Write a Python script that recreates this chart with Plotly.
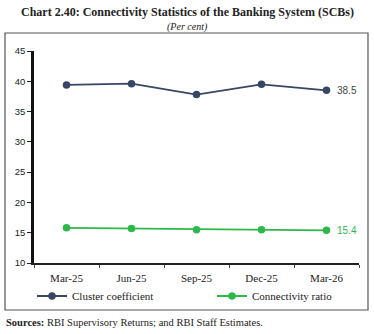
import plotly.graph_objects as go

categories = ["Mar-25", "Jun-25", "Sep-25", "Dec-25", "Mar-26"]
cluster_coefficient = [39.4, 39.6, 37.8, 39.5, 38.5]
connectivity_ratio = [15.8, 15.7, 15.5, 15.5, 15.4]
y_ticks = [10, 15, 20, 25, 30, 35, 40, 45]

C_CLUSTER = "#364664"
C_CONN = "#2DB84B"
SERIF = "Liberation Serif"
SANS = "Liberation Sans"

# plot area in pixels: x 34..359, y 51..263
L, R, T, B = 34, 359, 51, 263
W, H = 374, 334
def px(x):
    return (x - L) / (R - L)
def py(y):
    return (B - y) / (B - T)

fig = go.Figure()
fig.add_trace(go.Scatter(x=categories, y=cluster_coefficient, mode="lines+markers",
                         name="Cluster coefficient", legend="legend",
                         line=dict(color=C_CLUSTER, width=1.8),
                         marker=dict(size=7.5, color=C_CLUSTER)))
fig.add_trace(go.Scatter(x=categories, y=connectivity_ratio, mode="lines+markers",
                         name="Connectivity ratio", legend="legend2",
                         line=dict(color=C_CONN, width=1.8),
                         marker=dict(size=7.5, color=C_CONN)))

fig.add_annotation(x=categories[-1], y=cluster_coefficient[-1], xref="x", yref="y",
                   text=f"{cluster_coefficient[-1]:.1f}", showarrow=False,
                   xanchor="left", xshift=8, font=dict(family=SANS, size=10, color="#444"))
fig.add_annotation(x=categories[-1], y=connectivity_ratio[-1], xref="x", yref="y",
                   text=f"{connectivity_ratio[-1]:.1f}", showarrow=False,
                   xanchor="left", xshift=8, font=dict(family=SANS, size=10, color=C_CONN))

# title and subtitle
fig.add_annotation(x=px(187), y=py(12), xref="paper", yref="paper", xanchor="center", yanchor="middle",
                   text="<b>Chart 2.40: Connectivity Statistics of the Banking System (SCBs)</b>",
                   showarrow=False, font=dict(family=SERIF, size=12, color="#222"))
fig.add_annotation(x=px(187), y=py(27), xref="paper", yref="paper", xanchor="center", yanchor="middle",
                   text="<i>(Per cent)</i>", showarrow=False,
                   font=dict(family=SERIF, size=10, color="#222"))
fig.add_annotation(x=px(4), y=py(322), xref="paper", yref="paper", xanchor="left", yanchor="middle",
                   text="<b>Sources:</b> RBI Supervisory Returns; and RBI Staff Estimates.",
                   showarrow=False, font=dict(family=SERIF, size=10.5, color="#222"))

# outer frame
fig.add_shape(type="rect", xref="paper", yref="paper",
              x0=px(5), x1=px(368), y0=py(310), y1=py(33),
              line=dict(color="#555", width=1.2), fillcolor="rgba(0,0,0,0)")

legend_common = dict(orientation="h", xanchor="left", yanchor="middle",
                     font=dict(family=SERIF, size=11, color="#222"),
                     bgcolor="rgba(0,0,0,0)")
fig.update_layout(
    width=W, height=H,
    margin=dict(l=L, r=W - R, t=T, b=H - B),
    paper_bgcolor="white", plot_bgcolor="white",
    showlegend=True,
    legend=dict(x=px(32), y=py(296), **legend_common),
    legend2=dict(x=px(212), y=py(296), **legend_common),
)
fig.update_xaxes(showline=True, linecolor="#222", linewidth=1.5,
                 ticks="outside", ticklen=3, tickcolor="#444", tickson="boundaries",
                 range=[-0.5, 4.5], showgrid=False, zeroline=False,
                 ticklabelstandoff=4,
                 tickfont=dict(family=SERIF, size=11, color="#222"))
fig.update_yaxes(showline=True, linecolor="#111", linewidth=2.5,
                 ticks="outside", ticklen=4, tickcolor="#222",
                 range=[10, 45], tickvals=y_ticks, showgrid=False, zeroline=False,
                 tickfont=dict(family=SANS, size=9.5, color="#222"))

fig.write_html("out.html")
